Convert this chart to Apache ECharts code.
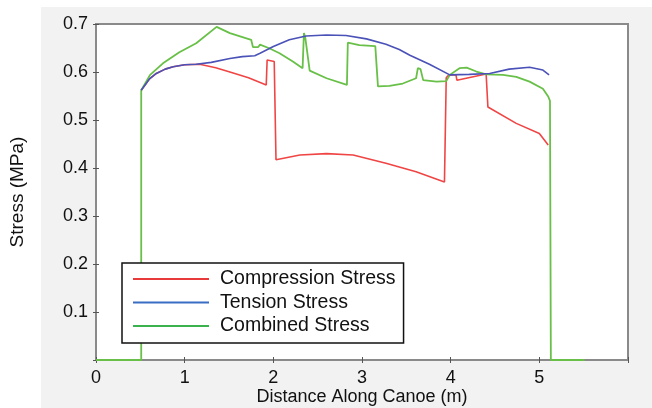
<!DOCTYPE html>
<html>
<head>
<meta charset="utf-8">
<script src="https://cdn.jsdelivr.net/npm/echarts@6/dist/echarts.min.js"></script>
<style>html,body{margin:0;padding:0;background:#fff;}#c{width:652px;height:408px;}</style>
</head>
<body>
<div id="c"></div>
<script>
const seriesNames = ['Compression Stress', 'Tension Stress', 'Combined Stress'];
const xTickLabels = ['0', '1', '2', '3', '4', '5'];
const yTickLabels = ['0.1', '0.2', '0.3', '0.4', '0.5', '0.6', '0.7'];

const compression = [[0.51,0.562],[0.53,0.566],[0.60,0.585],[0.68,0.597],[0.78,0.606],[0.87,0.611],[1.00,0.615],[1.17,0.616],[1.35,0.609],[1.51,0.600],[1.72,0.588],[1.92,0.573],[1.93,0.625],[2.01,0.622],[2.03,0.417],[2.30,0.427],[2.60,0.430],[2.90,0.427],[3.27,0.410],[3.61,0.392],[3.93,0.371],[3.95,0.588],[3.98,0.594],[4.06,0.594],[4.07,0.583],[4.40,0.596],[4.42,0.527],[4.74,0.493],[5.00,0.472],[5.10,0.448]];

const tension = [[0.51,0.562],[0.53,0.566],[0.60,0.585],[0.68,0.597],[0.78,0.606],[0.87,0.611],[1.00,0.615],[1.13,0.616],[1.30,0.620],[1.51,0.628],[1.65,0.632],[1.79,0.634],[1.85,0.639],[2.00,0.653],[2.18,0.667],[2.37,0.675],[2.60,0.677],[2.82,0.676],[3.05,0.669],[3.27,0.658],[3.42,0.647],[3.54,0.635],[3.76,0.616],[3.99,0.594],[4.21,0.595],[4.44,0.597],[4.66,0.606],[4.89,0.610],[5.04,0.604],[5.11,0.594]];

const combined = [[0,0],[0.51,0],[0.51,0.562],[0.61,0.594],[0.755,0.618],[0.94,0.641],[1.13,0.660],[1.36,0.694],[1.51,0.681],[1.75,0.667],[1.77,0.652],[1.83,0.652],[1.85,0.657],[1.96,0.649],[2.07,0.639],[2.22,0.622],[2.33,0.608],[2.345,0.681],[2.36,0.672],[2.41,0.603],[2.60,0.587],[2.83,0.573],[2.84,0.661],[2.97,0.656],[3.15,0.654],[3.18,0.570],[3.31,0.571],[3.46,0.576],[3.61,0.587],[3.63,0.608],[3.66,0.606],[3.69,0.583],[3.84,0.580],[3.95,0.581],[3.99,0.594],[4.10,0.608],[4.18,0.609],[4.29,0.601],[4.40,0.595],[4.59,0.594],[4.74,0.590],[4.89,0.580],[5.04,0.565],[5.10,0.549],[5.12,0.540],[5.13,0],[5.51,0]];

const font = 'Liberation Sans, Arial, Helvetica, sans-serif';
const chart = echarts.init(document.getElementById('c'), null, {renderer: 'canvas'});

const xAxisBase = {
  type: 'value', min: 0, max: 6, interval: 1,
  axisLine: {show: true, lineStyle: {color: '#8a8a8a', width: 2}},
  axisTick: {show: true, inside: true, length: 3, lineStyle: {color: '#555', width: 1}},
  splitLine: {show: false}
};
const yAxisBase = {
  type: 'value', min: 0, max: 0.7, interval: 0.1,
  axisLine: {show: true, lineStyle: {color: '#8a8a8a', width: 2}},
  axisTick: {show: true, inside: true, length: 3, lineStyle: {color: '#555', width: 1}},
  splitLine: {show: false}
};

chart.setOption({
  animation: false,
  backgroundColor: '#ffffff',
  graphic: [{type: 'rect', left: 41, top: 7, z: -100, silent: true,
    shape: {width: 611, height: 401}, style: {fill: '#f2f2f2'}}],
  grid: {left: 96, right: 24, top: 24, bottom: 48, containLabel: false, outerBoundsMode: 'none',
    show: true, backgroundColor: '#ffffff', borderColor: '#8a8a8a', borderWidth: 2},
  legend: {
    orient: 'vertical', left: 122, top: 263,
    data: [
      {name: seriesNames[0], itemStyle: {color: '#e83a3a'}},
      {name: seriesNames[1], itemStyle: {color: '#3a6ec4'}},
      {name: seriesNames[2], itemStyle: {color: '#3cb24e'}}
    ],
    icon: 'rect', itemWidth: 76, itemHeight: 2, itemGap: 1.5,
    padding: [5, 8, 6, 11],
    borderColor: '#111', borderWidth: 1.5, backgroundColor: '#ffffff',
    textStyle: {fontFamily: font, fontSize: 19.5, color: '#111', lineHeight: 22, padding: [0, 0, 0, 6]}
  },
  xAxis: [
    Object.assign({}, xAxisBase, {
      position: 'bottom',
      name: 'Distance Along Canoe (m)', nameLocation: 'middle', nameGap: 28, nameMoveOverlap: false,
      nameTextStyle: {fontFamily: font, fontSize: 18, color: '#111', verticalAlign: 'top', lineHeight: 18},
      axisLabel: {fontFamily: font, fontSize: 18, color: '#111', margin: 9,
        formatter: function (v) { const i = Math.round(v); return (i >= 0 && i < xTickLabels.length) ? xTickLabels[i] : ''; }}
    }),
    Object.assign({}, xAxisBase, {position: 'top', axisLabel: {show: false}})
  ],
  yAxis: [
    Object.assign({}, yAxisBase, {
      position: 'left',
      name: 'Stress (MPa)', nameLocation: 'middle', nameGap: 69, nameMoveOverlap: false,
      nameTextStyle: {fontFamily: font, fontSize: 19, color: '#111'},
      axisLabel: {fontFamily: font, fontSize: 18, color: '#111', margin: 8,
        formatter: function (v) { const i = Math.round(v * 10) - 1; return (i >= 0 && i < yTickLabels.length) ? yTickLabels[i] : ''; }}
    }),
    Object.assign({}, yAxisBase, {position: 'right', axisLabel: {show: false}})
  ],
  series: [
    {name: seriesNames[0], type: 'line', data: compression, showSymbol: false, symbol: 'none', z: 2,
      lineStyle: {color: '#f04545', width: 1.6}, itemStyle: {color: '#e83a3a'}},
    {name: seriesNames[1], type: 'line', data: tension, showSymbol: false, symbol: 'none', z: 4,
      lineStyle: {color: '#4a52b8', width: 1.6}, itemStyle: {color: '#3a6ec4'}},
    {name: seriesNames[2], type: 'line', data: combined, showSymbol: false, symbol: 'none', z: 3,
      lineStyle: {color: '#68c048', width: 1.8}, itemStyle: {color: '#3cb24e'}}
  ]
});
</script>
</body>
</html>
